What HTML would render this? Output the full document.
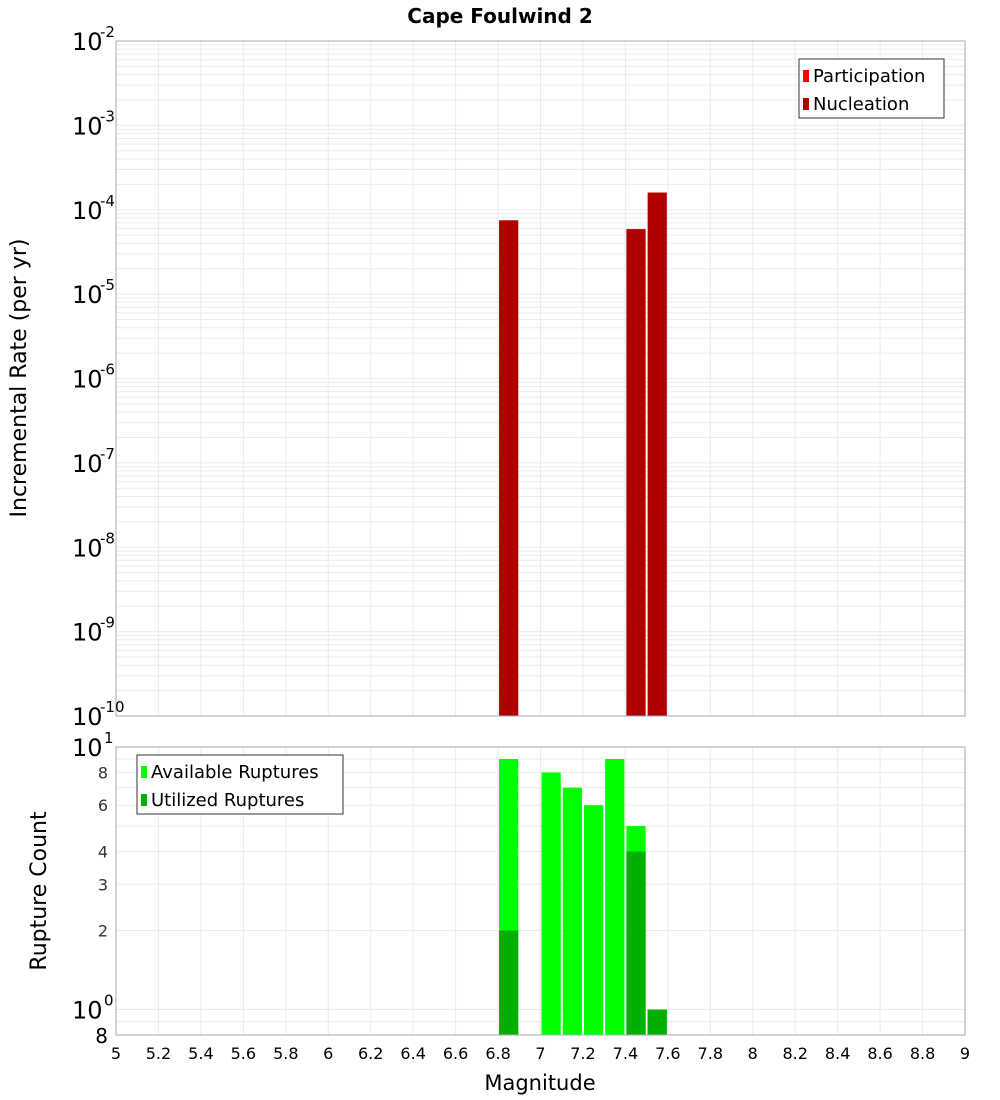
<!DOCTYPE html>
<html><head><meta charset="utf-8">
<style>
body{margin:0;background:#fff;font-family:"DejaVu Sans","Liberation Sans",sans-serif;}
svg{display:block}
</style></head>
<body>
<svg id="chart" width="1000" height="1100" xmlns="http://www.w3.org/2000/svg" font-family="DejaVu Sans, Liberation Sans, sans-serif"></svg>
<script>
// data
const rateMags = [6.85, 7.45, 7.55];
const nucleationRates = [7.5e-5, 5.9e-5, 1.6e-4];
const countMags = [6.85, 7.05, 7.15, 7.25, 7.35, 7.45, 7.55];
const availableCounts = [9, 8, 7, 6, 9, 5, 1];
const utilMags = [6.85, 7.45, 7.55];
const utilizedCounts = [2, 4, 1];
const xTicks = [5,5.2,5.4,5.6,5.8,6,6.2,6.4,6.6,6.8,7,7.2,7.4,7.6,7.8,8,8.2,8.4,8.6,8.8,9];
const topExps = [-10,-9,-8,-7,-6,-5,-4,-3,-2];
const botTicks = [8,6,4,3,2];

const NS = "http://www.w3.org/2000/svg";
const svg = document.getElementById('chart');
function el(tag, attrs, parent){const e=document.createElementNS(NS,tag);for(const k in attrs)e.setAttribute(k,attrs[k]);(parent||svg).appendChild(e);return e;}

const L=116,R=965,T1=41,B1=716,T2=747,B2=1035;
const x = v => L + (v-5)/(9-5)*(R-L);
const y1 = v => B1 - (Math.log10(v)+10)/8*(B1-T1);
const y2 = v => B2 - (Math.log10(v)-Math.log10(0.8))/(1-Math.log10(0.8))*(B2-T2);

// title
let t=el('text',{x:500,y:23,'text-anchor':'middle','font-size':20,'font-weight':'bold'});


t.textContent='Cape Foulwind 2';

function gridFrame(T,B,yfun,minVals,name){
  const g=el('g',{});
  
  
  xTicks.forEach(v=>{el('line',{x1:x(v),x2:x(v),y1:T,y2:B,stroke:'#ebebeb','stroke-width':1},g);});
  minVals.forEach(v=>{const yy=yfun(v);if(yy>=T&&yy<=B)el('line',{x1:L,x2:R,y1:yy,y2:yy,stroke:'#ebebeb','stroke-width':1},g);});
}
// top grid
let mins=[];
for(let e=-10;e<-2;e++)for(let m=1;m<10;m++)mins.push(m*Math.pow(10,e));
mins.push(1e-2);
gridFrame(T1,B1,y1,mins,'top-plot');
let mins2=[0.8,0.9,1,2,3,4,5,6,7,8,9,10];
gridFrame(T2,B2,y2,mins2,'bottom-plot');

// top bars
rateMags.forEach((m,i)=>{
  const r=el('rect',{x:x(m-0.05)+1,y:y1(nucleationRates[i]),width:x(m+0.05)-x(m-0.05)-2,height:B1-y1(nucleationRates[i]),fill:'#b00000'});
  
  
});
// bottom bars
countMags.forEach((m,i)=>{
  const r=el('rect',{x:x(m-0.05)+1,y:y2(availableCounts[i]),width:x(m+0.05)-x(m-0.05)-2,height:B2-y2(availableCounts[i]),fill:'#00ff00'});
  
  
});
utilMags.forEach((m,i)=>{
  const r=el('rect',{x:x(m-0.05)+1,y:y2(utilizedCounts[i]),width:x(m+0.05)-x(m-0.05)-2,height:B2-y2(utilizedCounts[i]),fill:'#00b000'});
  
  
});

// frames
el('rect',{x:L,y:T1,width:R-L,height:B1-T1,fill:'none',stroke:'#aaa'});
el('rect',{x:L,y:T2,width:R-L,height:B2-T2,fill:'none',stroke:'#aaa'});

// top y ticks
topExps.forEach(e=>{
  const yy=y1(Math.pow(10,e));
  const tx=el('text',{x:72,y:yy+9,'font-size':24});
  
  
  tx.textContent='10';
  const sp=el('text',{x:100,y:yy-4,'font-size':15});
  
  
  sp.textContent=String(e);
});
// bottom y ticks
botTicks.forEach(v=>{
  const tx=el('text',{x:108,y:y2(v)+6,'font-size':16,'text-anchor':'end',fill:'#333'});
  
  
  tx.textContent=String(v);
});
[[10,'1'],[1,'0']].forEach(([v,ex])=>{
  const yy=y2(v);
  const tx=el('text',{x:72,y:yy+9,'font-size':24});
  
  
  tx.textContent='10';
  const sp=el('text',{x:104,y:yy-4,'font-size':15});
  
  
  sp.textContent=ex;
});
let e8=el('text',{x:108,y:B2+8,'font-size':20,'text-anchor':'end'});


e8.textContent='8';

// x ticks
xTicks.forEach(v=>{
  const tx=el('text',{x:x(v),y:1059,'font-size':16,'text-anchor':'middle'});
  
  
  tx.textContent=String(v);
});
let xt=el('text',{x:540,y:1090,'font-size':21,'text-anchor':'middle'});


xt.textContent='Magnitude';

let yt=el('text',{x:0,y:0,'font-size':22,'text-anchor':'middle',transform:'translate(26,378) rotate(-90)'});


yt.textContent='Incremental Rate (per yr)';
let yt2=el('text',{x:0,y:0,'font-size':22,'text-anchor':'middle',transform:'translate(46,891) rotate(-90)'});


yt2.textContent='Rupture Count';

// legends
function legend(lx,ly,w,h,items,name){
  const g=el('g',{});
  
  
  el('rect',{x:lx,y:ly,width:w,height:h,fill:'#fff',stroke:'#333','stroke-width':1},g);
  items.forEach(([c,label],i)=>{
    const yy=ly+18+i*28;
    el('rect',{x:lx+4,y:yy-7,width:6,height:12,fill:c},g);
    const tx=el('text',{x:lx+14,y:yy+5,'font-size':18},g);
    
    
    tx.textContent=label;
  });
}
legend(799,59,145,59,[['#ff0000','Participation'],['#b00000','Nucleation']],'top-legend');
legend(137,755,206,59,[['#00ff00','Available Ruptures'],['#00b000','Utilized Ruptures']],'bottom-legend');
</script>
</body></html>
